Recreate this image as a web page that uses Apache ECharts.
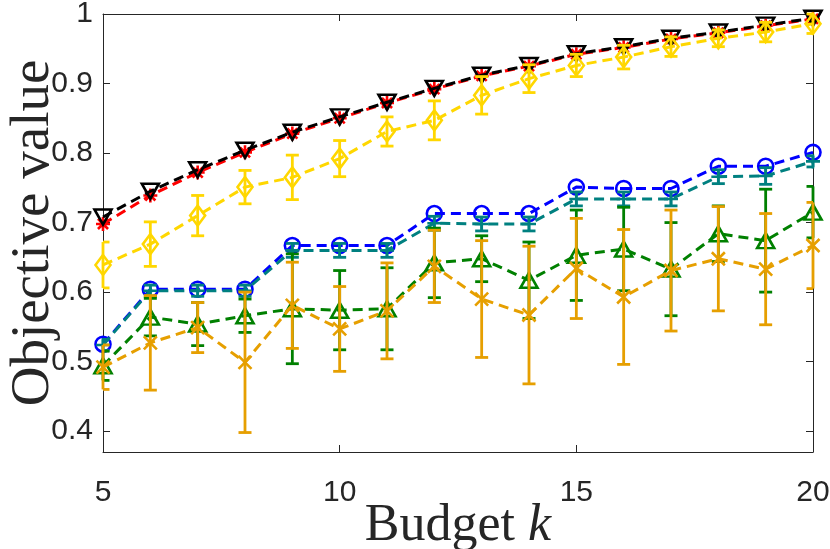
<!DOCTYPE html>
<html><head><meta charset="utf-8">
<script src="https://cdn.jsdelivr.net/npm/echarts@6/dist/echarts.min.js"></script>
<style>html,body{margin:0;padding:0;background:#fff}#c{width:830px;height:549px}</style>
</head><body><div id="c"></div>
<script>
const budgets = [5,6,7,8,9,10,11,12,13,14,15,16,17,18,19,20];
const blackVals = [0.708,0.745,0.776,0.804,0.830,0.852,0.873,0.893,0.912,0.926,0.943,0.953,0.965,0.974,0.984,0.994];
const redVals = [0.698,0.739,0.772,0.801,0.828,0.850,0.872,0.892,0.911,0.925,0.942,0.952,0.964,0.973,0.983,0.993];
const goldVals = [0.639,0.669,0.710,0.751,0.765,0.792,0.831,0.847,0.883,0.907,0.926,0.938,0.953,0.965,0.974,0.986];
const goldErr = [0.033,0.032,0.029,0.024,0.032,0.026,0.021,0.028,0.027,0.020,0.016,0.017,0.014,0.012,0.014,0.014];
const blueVals = [0.525,0.604,0.604,0.604,0.667,0.667,0.667,0.713,0.713,0.713,0.751,0.749,0.749,0.781,0.781,0.801];
const tealVals = [0.524,0.602,0.602,0.602,0.660,0.660,0.660,0.699,0.698,0.698,0.734,0.734,0.734,0.766,0.767,0.788];
const tealErr = [0.008,0.008,0.008,0.008,0.010,0.010,0.010,0.010,0.010,0.010,0.010,0.010,0.010,0.010,0.012,0.008];
const greenVals = [0.494,0.564,0.554,0.566,0.576,0.574,0.576,0.642,0.648,0.617,0.653,0.662,0.633,0.684,0.674,0.715];
const greenErr = [0.021,0.027,0.031,0.024,0.079,0.057,0.059,0.050,0.033,0.055,0.065,0.060,0.067,0.040,0.074,0.037];
const orangeVals = [0.492,0.527,0.549,0.499,0.581,0.547,0.573,0.637,0.590,0.567,0.634,0.593,0.631,0.648,0.633,0.667];
const orangeErr = [0.032,0.068,0.036,0.101,0.062,0.061,0.069,0.052,0.084,0.099,0.072,0.097,0.087,0.075,0.080,0.062];
const xTicks = [5,10,15,20];
const yTicks = [0.4,0.5,0.6,0.7,0.8,0.9,1];

const SYM = {
  plus: 'path://M0,-1L0,1M-1,0L1,0',
  cross: 'path://M-1,-1L1,1M-1,1L1,-1',
  star: 'path://M0,-1L0,1M-1,0L1,0M-0.72,-0.72L0.72,0.72M-0.72,0.72L0.72,-0.72'
};

function pts(vals){ return budgets.map((b,i)=>[b, vals[i]]); }
function errPts(vals, err){ return budgets.map((b,i)=>[b, vals[i]-err[i], vals[i]+err[i]]); }

function lineSeries(name, vals, color, symbol, size, z, rotate){
  return {
    name, type:'line', data: pts(vals), z,
    symbol, symbolSize: size, symbolRotate: rotate||0, showAllSymbol:true,
    lineStyle:{color, width:3, type:[10,6]},
    itemStyle:{color:'rgba(0,0,0,0)', borderColor:color, borderWidth:2.6},
    emphasis:{disabled:true}, silent:true
  };
}
function errSeries(name, vals, err, color, z){
  return {
    name: name+'-err', type:'custom', data: errPts(vals, err), z, silent:true,
    encode:{x:0, y:[1,2]},
    renderItem: function(params, api){
      const x = api.value(0), lo = api.value(1), hi = api.value(2);
      const p1 = api.coord([x, lo]), p2 = api.coord([x, hi]);
      const cs = params.coordSys;
      const l = Math.max(p1[0]-6.5, cs.x), r = Math.min(p1[0]+6.5, cs.x+cs.width);
      const style = {stroke: color, lineWidth: 2.8, fill: null};
      return {type:'group', children:[
        {type:'line', shape:{x1:p1[0],y1:p1[1],x2:p2[0],y2:p2[1]}, style},
        {type:'line', shape:{x1:l,y1:p1[1],x2:r,y2:p1[1]}, style},
        {type:'line', shape:{x1:l,y1:p2[1],x2:r,y2:p2[1]}, style}
      ]};
    }
  };
}

const C = {red:'#FF0000', black:'#000000', gold:'#FFD700', blue:'#0000FF', teal:'#008080', green:'#008000', orange:'#E69F00'};
const axisCol = '#262626';

const chart = echarts.init(document.getElementById('c'), null, {renderer:'canvas'});
chart.setOption({
  animation:false,
  backgroundColor:'#fff',
  grid:{left:103, right:17, top:14, bottom:97, containLabel:false, outerBoundsMode:'none'},
  xAxis:[{
    type:'value', min:xTicks[0], max:xTicks[xTicks.length-1], interval:5,
    axisLine:{show:true, onZero:false, lineStyle:{color:axisCol, width:1}},
    axisTick:{show:true, inside:true, length:7, lineStyle:{color:axisCol}},
    splitLine:{show:false},
    axisLabel:{fontFamily:'Liberation Sans', fontSize:30, color:axisCol, margin:26},
    name:'{a|Budget }{b|k}', nameLocation:'middle', nameGap:48, nameMoveOverlap:false,
    nameTextStyle:{rich:{
      a:{fontFamily:'Liberation Serif', fontSize:52, color:axisCol},
      b:{fontFamily:'Liberation Serif', fontSize:52, fontStyle:'italic', color:axisCol}
    }}
  },{
    type:'value', position:'top', min:xTicks[0], max:xTicks[xTicks.length-1], interval:5,
    axisLine:{show:true, onZero:false, lineStyle:{color:axisCol, width:1}},
    axisTick:{show:true, inside:true, length:7, lineStyle:{color:axisCol}},
    splitLine:{show:false}, axisLabel:{show:false}
  }],
  yAxis:[{
    type:'value', min:0.37, max:yTicks[yTicks.length-1], splitNumber:6,
    axisLine:{show:true, onZero:false, lineStyle:{color:axisCol, width:1}},
    axisTick:{show:true, inside:true, length:7, lineStyle:{color:axisCol}},
    splitLine:{show:false},
    axisLabel:{fontFamily:'Liberation Sans', fontSize:30, color:axisCol, margin:10, showMinLabel:false},
    name:'Objective value', nameLocation:'middle', nameGap:42, nameMoveOverlap:false,
    nameTextStyle:{fontFamily:'Liberation Serif', fontSize:55, color:axisCol}
  },{
    type:'value', position:'right', min:0.37, max:yTicks[yTicks.length-1], splitNumber:6,
    axisLine:{show:true, onZero:false, lineStyle:{color:axisCol, width:1}},
    axisTick:{show:true, inside:true, length:7, lineStyle:{color:axisCol}},
    splitLine:{show:false}, axisLabel:{show:false}
  }],
  series:[
    lineSeries('red', redVals, C.red, SYM.star, 14, 2),
    lineSeries('black', blackVals, C.black, 'triangle', [17,15], 3, 180),
    errSeries('gold', goldVals, goldErr, C.gold, 4),
    lineSeries('gold', goldVals, C.gold, 'diamond', [15,20], 4),
    lineSeries('blue', blueVals, C.blue, 'circle', 15, 5),
    errSeries('teal', tealVals, tealErr, C.teal, 6),
    lineSeries('teal', tealVals, C.teal, SYM.plus, 14, 6),
    errSeries('green', greenVals, greenErr, C.green, 7),
    lineSeries('green', greenVals, C.green, 'triangle', [17,15], 7),
    errSeries('orange', orangeVals, orangeErr, C.orange, 8),
    lineSeries('orange', orangeVals, C.orange, SYM.cross, 13, 8)
  ]
});
</script></body></html>
